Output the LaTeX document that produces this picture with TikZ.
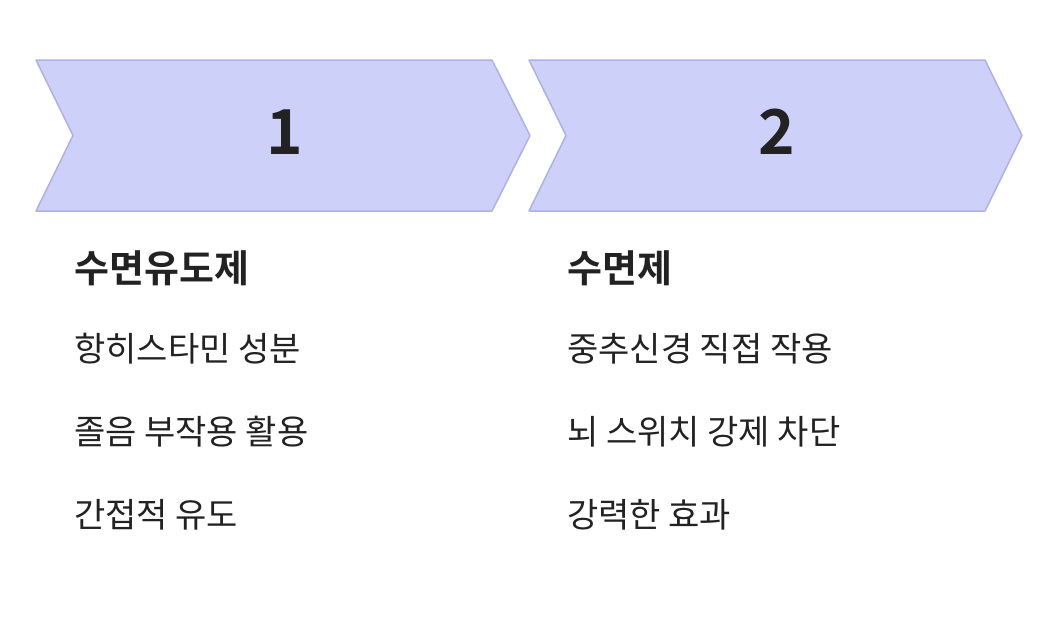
\documentclass[tikz,border=0pt]{standalone}
\usepackage{fontspec}
\newfontfamily\kr{Noto Sans CJK KR}
\newfontfamily\krb{Noto Sans CJK KR Bold}
\definecolor{chev}{HTML}{CDD0F8}
\definecolor{chevline}{HTML}{AEB1E4}
\definecolor{ink}{HTML}{222222}
\begin{document}
\begin{tikzpicture}[x=1pt,y=-1pt,
  chevron/.style={fill=chev,draw=chevline,line width=1.5pt,line join=round},
  num/.style={font=\krb\fontsize{62}{62}\selectfont,text=ink},
  head/.style={font=\krb\fontsize{38}{38}\selectfont,text=ink,anchor=west,inner sep=0},
  item/.style={font=\kr\fontsize{34}{34}\selectfont,text=ink,anchor=west,inner sep=0}]
\useasboundingbox (0,0) rectangle (1040,618);
\draw[chevron] (36,60) -- (492,60) -- (530,135.5) -- (492,211) -- (36,211) -- (73,135.5) -- cycle;
\draw[chevron] (529,60) -- (985,60) -- (1022,135.5) -- (985,211) -- (529,211) -- (566,135.5) -- cycle;
\node[num] (n1) at (285,132) {1};
\node[num] (n2) at (777,132) {2};
\node[head] (h1) at (74,268) {수면유도제};
\node[item] (a1) at (74,349) {항히스타민 성분};
\node[item] (a2) at (74,432) {졸음 부작용 활용};
\node[item] (a3) at (74,515) {간접적 유도};
\node[head] (h2) at (567,268) {수면제};
\node[item] (b1) at (567,349) {중추신경 직접 작용};
\node[item] (b2) at (567,432) {뇌 스위치 강제 차단};
\node[item] (b3) at (567,515) {강력한 효과};
\end{tikzpicture}
\end{document}
